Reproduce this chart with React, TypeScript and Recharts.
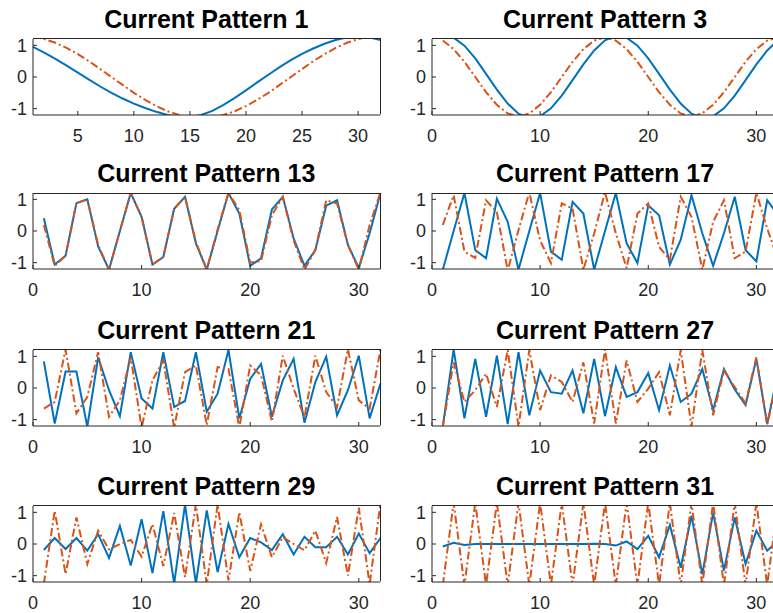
import React from "react";
import { LineChart, Line, XAxis, YAxis } from "recharts";

// sample index (electrode number)
const xs = [1, 2, 3, 4, 5, 6, 7, 8, 9, 10, 11, 12, 13, 14, 15, 16, 17, 18, 19, 20, 21, 22, 23, 24, 25, 26, 27, 28, 29, 30, 31, 32];

const p1Blue = [0.95, 0.77, 0.57, 0.36, 0.14, -0.08, -0.3, -0.5, -0.68, -0.84, -0.98, -1.1, -1.2, -1.26, -1.27, -1.2, -1.07, -0.88, -0.66, -0.42, -0.17, 0.07, 0.31, 0.53, 0.73, 0.9, 1.05, 1.17, 1.25, 1.28, 1.25, 1.17];
const p1Orange = [1.28, 1.2, 1.08, 0.92, 0.72, 0.5, 0.25, 0, -0.25, -0.5, -0.72, -0.92, -1.08, -1.2, -1.28, -1.3, -1.28, -1.2, -1.08, -0.92, -0.72, -0.5, -0.25, 0, 0.25, 0.5, 0.72, 0.92, 1.08, 1.2, 1.28, 1.3];

const p3Blue = [1.3, 1.24, 0.99, 0.59, 0.1, -0.4, -0.84, -1.16, -1.3, -1.24, -0.99, -0.59, -0.1, 0.4, 0.84, 1.16, 1.3, 1.24, 0.99, 0.59, 0.1, -0.4, -0.84, -1.16, -1.3, -1.24, -0.99, -0.59, -0.1, 0.4, 0.84, 1.16];
const p3Orange = [1.15, 0.88, 0.48, 0, -0.48, -0.88, -1.15, -1.25, -1.15, -0.88, -0.48, 0, 0.48, 0.88, 1.15, 1.25, 1.15, 0.88, 0.48, 0, -0.48, -0.88, -1.15, -1.25, -1.15, -0.88, -0.48, 0, 0.48, 0.88, 1.15, 1.25];

const p13Blue = [0.4, -1.06, -0.78, 0.88, 1.0, -0.49, -1.22, 0.0, 1.2, 0.45, -1.06, -0.82, 0.7, 1.08, -0.39, -1.22, 0.0, 1.2, 0.55, -1.1, -0.86, 0.68, 1.08, -0.23, -1.1, -0.6, 0.8, 0.97, -0.44, -1.17, -0.07, 1.2];
const p13Orange = [0.19, -1.1, -0.78, 0.88, 1.0, -0.45, -1.22, 0.0, 1.2, 0.45, -1.06, -0.82, 0.7, 1.08, -0.35, -1.22, 0.05, 1.2, 0.66, -1.0, -0.95, 0.5, 1.08, -0.3, -1.22, -0.6, 0.97, 0.87, -0.44, -1.22, 0.19, 1.22];

const p17Blue = [-1.22, 0.0, 1.2, -0.6, -0.86, 1.02, 0.29, -1.22, 0.0, 1.2, -0.65, -0.91, 0.92, 0.55, -1.22, 0.0, 1.2, -0.39, -1.01, 0.81, 0.5, -1.06, -0.28, 1.13, -0.07, -1.1, -0.07, 1.08, -0.6, -0.96, 0.97, 0.5];
const p17Orange = [0.19, 1.13, -0.65, -0.85, 0.97, 0.6, -1.25, 0.03, 1.22, -0.3, -1.01, 0.87, 0.71, -1.22, -0.07, 1.22, -0.07, -1.17, 0.55, 0.87, -0.5, -0.91, 1.08, 0.45, -1.22, 0.29, 0.97, -0.86, -0.65, 1.2, 0.08, -0.9];

const p21Blue = [0.84, -1.12, 0.52, 0.52, -1.22, 0.97, -0.07, -0.89, 1.13, -0.33, -0.65, 1.13, -0.6, -0.41, 1.13, -0.75, -0.18, 1.2, -0.96, 0.29, 0.76, -0.91, 0.24, 0.92, -1.1, 0.19, 0.99, -0.86, -0.07, 1.02, -0.96, 0.14];
const p21Orange = [-0.65, -0.44, 1.22, -0.8, -0.28, 1.13, -0.91, -0.39, 0.97, -1.25, 0.24, 0.87, -1.25, 0.5, 0.71, -1.17, 0.66, 0.6, -1.25, 0.71, 0.4, -1.06, 1.02, -0.02, -0.93, 1.02, -0.13, -0.6, 1.22, -0.39, -0.65, 1.22];

const p27Blue = [-1.22, 1.22, -0.96, 0.92, -0.91, 1.02, -1.14, 1.13, -0.86, 0.55, -0.13, -0.18, 0.55, -0.8, 0.92, -0.89, 0.66, -0.28, -0.13, 0.47, -0.7, 0.71, -0.44, -0.18, 0.6, -0.7, 0.6, -0.05, -0.54, 0.92, -1.14, 0.5];
const p27Orange = [-1.22, 0.81, -0.44, -0.07, 0.45, -0.6, 1.2, -1.22, 1.2, -0.7, 0.4, 0.19, -0.44, 0.81, -1.12, 1.22, -1.12, 0.87, -0.44, -0.02, 0.5, -0.86, 1.2, -1.22, 1.2, -0.86, 0.55, 0.03, -0.49, 0.97, -1.14, 0.3];

const p29Blue = [-0.19, 0.19, -0.16, 0.19, -0.21, 0.31, -0.44, 0.57, -0.68, 0.78, -0.92, 1.04, -1.25, 1.25, -1.25, 1.06, -0.89, 0.63, -0.42, 0.19, 0.05, -0.19, 0.31, -0.33, 0.23, -0.1, -0.1, 0.23, -0.33, 0.33, -0.29, 0.19];
const p29Orange = [-1.25, 1.05, -0.95, 0.84, -0.63, 0.42, -0.17, 0.0, 0.13, -0.4, 0.63, -0.7, 0.98, -1.05, 1.25, -1.28, 1.25, -1.15, 1.0, -0.85, 0.62, -0.42, 0.22, 0.0, -0.2, 0.42, -0.6, 0.85, -1.0, 1.15, -1.27, 1.3];

const p31Blue = [-0.08, 0.04, -0.03, 0.0, 0.0, 0.0, 0.0, 0.0, 0.0, 0.0, 0.0, 0.0, 0.0, 0.0, 0.01, 0.0, -0.05, 0.08, -0.16, 0.26, -0.42, 0.6, -0.75, 0.89, -0.96, 0.99, -0.84, 0.84, -0.63, 0.42, -0.21, 0.1];
const p31Orange = [-1.3, 1.3, -1.3, 1.3, -1.3, 1.3, -1.3, 1.3, -1.3, 1.3, -1.3, 1.3, -1.3, 1.3, -1.3, 1.3, -1.3, 1.3, -1.3, 1.3, -1.3, 1.3, -1.3, 1.3, -1.3, 1.3, -1.3, 1.3, -1.3, 1.3, -1.3, 1.3];

const yTicks = [-1, 0, 1];
const xTicksFirst = [5, 10, 15, 20, 25, 30];
const xTicks = [0, 10, 20, 30];

const BLUE = "#0072BD";
const ORANGE = "#D95319";
const AXIS = "#262626";
const FONT = "'Liberation Sans', Arial, Helvetica, sans-serif";

const PLOT_H = 76;
const LEFT_W = 347.5;
const RIGHT_W = 346;

const panels = [
  { title: "Current Pattern 1", blue: p1Blue, orange: p1Orange, left: 32.5, top: 38.5, w: LEFT_W, first: true },
  { title: "Current Pattern 3", blue: p3Blue, orange: p3Orange, left: 432, top: 38.5, w: RIGHT_W },
  { title: "Current Pattern 13", blue: p13Blue, orange: p13Orange, left: 32.5, top: 193, w: LEFT_W },
  { title: "Current Pattern 17", blue: p17Blue, orange: p17Orange, left: 432, top: 193, w: RIGHT_W },
  { title: "Current Pattern 21", blue: p21Blue, orange: p21Orange, left: 32.5, top: 349.5, w: LEFT_W },
  { title: "Current Pattern 27", blue: p27Blue, orange: p27Orange, left: 432, top: 349.5, w: RIGHT_W },
  { title: "Current Pattern 29", blue: p29Blue, orange: p29Orange, left: 32.5, top: 505.5, w: LEFT_W },
  { title: "Current Pattern 31", blue: p31Blue, orange: p31Orange, left: 432, top: 505.5, w: RIGHT_W },
];

const tickStyle = { fill: AXIS, fontSize: 18, fontFamily: FONT };

function Panel({ p }: { p: any }) {
  const data = xs.map((x, i) => ({ x, blue: p.blue[i], orange: p.orange[i] }));
  const domain = p.first ? [1, 32] : [0, 32];
  const ticks = p.first ? xTicksFirst : xTicks;
  return (
    <>
      <div
        style={{
          position: "absolute",
          left: p.left,
          width: p.w,
          top: p.top - 32,
          textAlign: "center",
          fontFamily: FONT,
          fontWeight: "bold",
          fontSize: 25,
          lineHeight: "25px",
          color: "#000",
          whiteSpace: "nowrap",
        }}
      >
        {p.title}
      </div>
      <div style={{ position: "absolute", left: p.left - 40, top: p.top - 10 }}>
        <LineChart
          width={p.w + 45}
          height={PLOT_H + 50}
          data={data}
          margin={{ top: 10, right: 5, left: 0, bottom: 0 }}
        >
          <XAxis
            dataKey="x"
            type="number"
            domain={domain}
            ticks={ticks}
            height={40}
            tick={tickStyle}
            tickSize={-4}
            tickMargin={18}
            axisLine={{ stroke: AXIS }}
            tickLine={{ stroke: AXIS }}
          />
          <YAxis
            type="number"
            domain={[-1.2, 1.2]}
            allowDataOverflow
            ticks={yTicks}
            width={40}
            tick={tickStyle}
            tickSize={-4}
            tickMargin={10}
            axisLine={{ stroke: AXIS }}
            tickLine={{ stroke: AXIS }}
          />
          <Line
            type="linear"
            dataKey="blue"
            stroke={BLUE}
            strokeWidth={2}
            dot={false}
            isAnimationActive={false}
          />
          <Line
            type="linear"
            dataKey="orange"
            stroke={ORANGE}
            strokeWidth={2}
            strokeDasharray="8 3 2 3"
            dot={false}
            isAnimationActive={false}
          />
        </LineChart>
      </div>
      {/* top and right sides of the axes box */}
      <div
        style={{
          position: "absolute",
          left: p.left,
          top: p.top - 0.5,
          width: p.w + 0.5,
          height: PLOT_H,
          boxSizing: "border-box",
          borderTop: `1px solid ${AXIS}`,
          borderRight: `1px solid ${AXIS}`,
          pointerEvents: "none",
        }}
      />
    </>
  );
}

export default function App() {
  return (
    <div
      style={{
        position: "fixed",
        left: 0,
        top: 0,
        width: 773,
        height: 613,
        overflow: "hidden",
        background: "#fff",
      }}
    >
      {panels.map((p) => (
        <Panel key={p.title} p={p} />
      ))}
    </div>
  );
}
